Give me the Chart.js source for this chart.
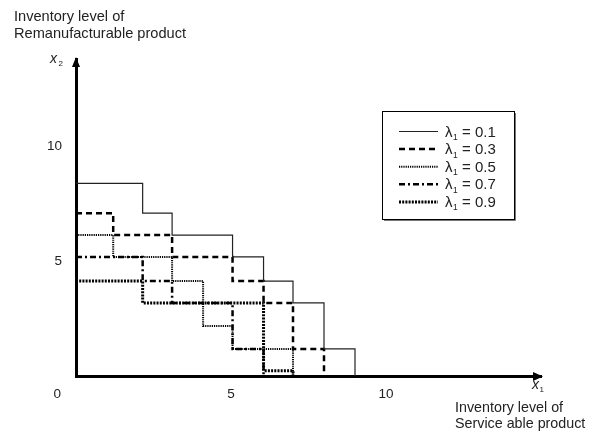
<!DOCTYPE html>
<html><head><meta charset="utf-8">
<script src="https://cdn.jsdelivr.net/npm/chart.js@4.4.0/dist/chart.umd.min.js"></script>
<style>html,body{margin:0;padding:0;background:#fff;}#wrap{width:594px;height:442px;}</style>
</head><body><div id="wrap"><canvas id="c" width="594" height="442"></canvas></div>
<script>
const FONT = '"Liberation Sans", Arial, sans-serif';
const lambdaLabels = ['0.1', '0.3', '0.5', '0.7', '0.9'];
// each series: x where a level starts, and the level (stepped, horizontal first)
const s01x = [0, 2.15, 3.1, 5.05, 6.05, 7, 8, 9];
const s01y = [8.4, 7.1, 6.15, 5.2, 4.15, 3.2, 1.2, 0];
const s03x = [0, 1.2, 3.1, 5.05, 6.05, 7, 8];
const s03y = [7.1, 6.15, 5.2, 4.15, 3.2, 1.2, 0];
const s05x = [0, 1.2, 3.1, 4.1, 5.05, 7];
const s05y = [6.15, 5.2, 4.15, 2.2, 1.2, 0];
const s07x = [0, 2.15, 3.1, 5.05, 6.05];
const s07y = [5.2, 4.15, 3.2, 1.2, 0];
const s09x = [0, 2.15, 6.05, 7];
const s09y = [4.15, 3.2, 0.25, 0];
const xTicks = [0, 5, 10];
const yTicks = [5, 10];
const xTitle = ['Inventory level of', 'Service able product'];
const yTitle = ['Inventory level of', 'Remanufacturable product'];

const pts = (xs, ys) => xs.map((v, i) => ({x: v, y: ys[i]}));
const styles = [
  {borderColor: '#222', borderWidth: 1.2, borderDash: []},
  {borderColor: '#000', borderWidth: 2.5, borderDash: [6, 4]},
  {borderColor: '#000', borderWidth: 2, borderDash: [1.2, 1]},
  {borderColor: '#000', borderWidth: 2.5, borderDash: [6, 3, 2, 3]},
  {borderColor: '#000', borderWidth: 3, borderDash: [2, 1.2]}
];
const seriesData = [pts(s01x, s01y), pts(s03x, s03y), pts(s05x, s05y), pts(s07x, s07y), pts(s09x, s09y)];
const datasets = seriesData.map((d, i) => Object.assign({
  label: 'λ1 = ' + lambdaLabels[i], data: d, stepped: true, fill: false, pointRadius: 0
}, styles[i]));

const decor = {
  id: 'decor',
  afterDraw(chart) {
    const {ctx, chartArea: a, scales: {x, y}} = chart;
    const x0 = x.getPixelForValue(0), y0 = y.getPixelForValue(0);
    ctx.save();
    ctx.fillStyle = '#000';
    ctx.beginPath(); ctx.moveTo(x0, a.top - 2); ctx.lineTo(x0 - 4, a.top + 8); ctx.lineTo(x0 + 4, a.top + 8); ctx.closePath(); ctx.fill();
    ctx.beginPath(); ctx.moveTo(a.right + 2, y0); ctx.lineTo(a.right - 8, y0 - 4.5); ctx.lineTo(a.right - 8, y0 + 4.5); ctx.closePath(); ctx.fill();
    ctx.fillStyle = '#222';
    ctx.textAlign = 'left'; ctx.textBaseline = 'alphabetic';
    ctx.font = '14.6px ' + FONT;
    ctx.fillText(yTitle[0], 14, 20.5);
    ctx.fillText(yTitle[1], 14, 38);
    ctx.font = '14.3px ' + FONT;
    ctx.fillText(xTitle[0], 455, 412);
    ctx.fillText(xTitle[1], 455, 428);
    // axis symbols
    ctx.font = 'italic 14px ' + FONT;
    ctx.fillText('x', 50, 63);
    ctx.fillText('x', 532, 389);
    ctx.font = '8px ' + FONT;
    ctx.fillText('2', 58.5, 66);
    ctx.fillText('1', 539.5, 392);
    // legend
    const L = {left: 382, top: 111, right: 514, bottom: 219};
    ctx.strokeStyle = '#000'; ctx.lineWidth = 1;
    ctx.strokeRect(L.left + 0.5, L.top + 0.5, L.right - L.left, L.bottom - L.top);
    ctx.strokeStyle = '#777';
    ctx.beginPath(); ctx.moveTo(L.left + 2, L.bottom + 1.5); ctx.lineTo(L.right + 1.5, L.bottom + 1.5); ctx.lineTo(L.right + 1.5, L.top + 2); ctx.stroke();
    chart.data.datasets.forEach((ds, i) => {
      const cy = 131.5 + i * 17.6;
      ctx.save();
      ctx.strokeStyle = ds.borderColor; ctx.lineWidth = ds.borderWidth;
      ctx.setLineDash(ds.borderDash);
      ctx.beginPath(); ctx.moveTo(399, cy); ctx.lineTo(438, cy); ctx.stroke();
      ctx.restore();
      ctx.fillStyle = '#222';
      ctx.font = '15px ' + FONT;
      ctx.fillText('λ', 445, cy + 5);
      ctx.font = '8.5px ' + FONT;
      ctx.fillText('1', 453, cy + 8.5);
      ctx.font = '15px ' + FONT;
      ctx.fillText('= ' + lambdaLabels[i], 462, cy + 5);
    });
    ctx.restore();
  }
};

new Chart(document.getElementById('c'), {
  type: 'line',
  data: {datasets},
  options: {
    responsive: false, animation: false, devicePixelRatio: 1,
    layout: {padding: {top: 59.1, right: 53, left: 0, bottom: 0}},
    plugins: {legend: {display: false}, tooltip: {enabled: false}},
    elements: {point: {radius: 0}, line: {tension: 0}},
    scales: {
      x: {
        type: 'linear', min: 0, max: 15,
        afterFit(s) { s.height = 65.5; },
        afterBuildTicks(s) { s.ticks = xTicks.map(v => ({value: v})); },
        grid: {display: false, drawTicks: false},
        border: {display: true, color: '#000', width: 3},
        ticks: {padding: 10, color: '#222', font: {size: 13.5, family: FONT}, maxRotation: 0, autoSkip: false,
          callback: v => v === 0 ? '0' + ' '.repeat(10) : String(v)}
      },
      y: {
        type: 'linear', min: 0, max: 13.8,
        afterFit(s) { s.width = 76; },
        afterBuildTicks(s) { s.ticks = yTicks.map(v => ({value: v})); },
        grid: {display: false, drawTicks: false},
        border: {display: true, color: '#000', width: 3},
        ticks: {padding: 14, color: '#222', font: {size: 13.5, family: FONT}, autoSkip: false,
          callback: v => String(v)}
      }
    }
  },
  plugins: [decor]
});
</script></body></html>
